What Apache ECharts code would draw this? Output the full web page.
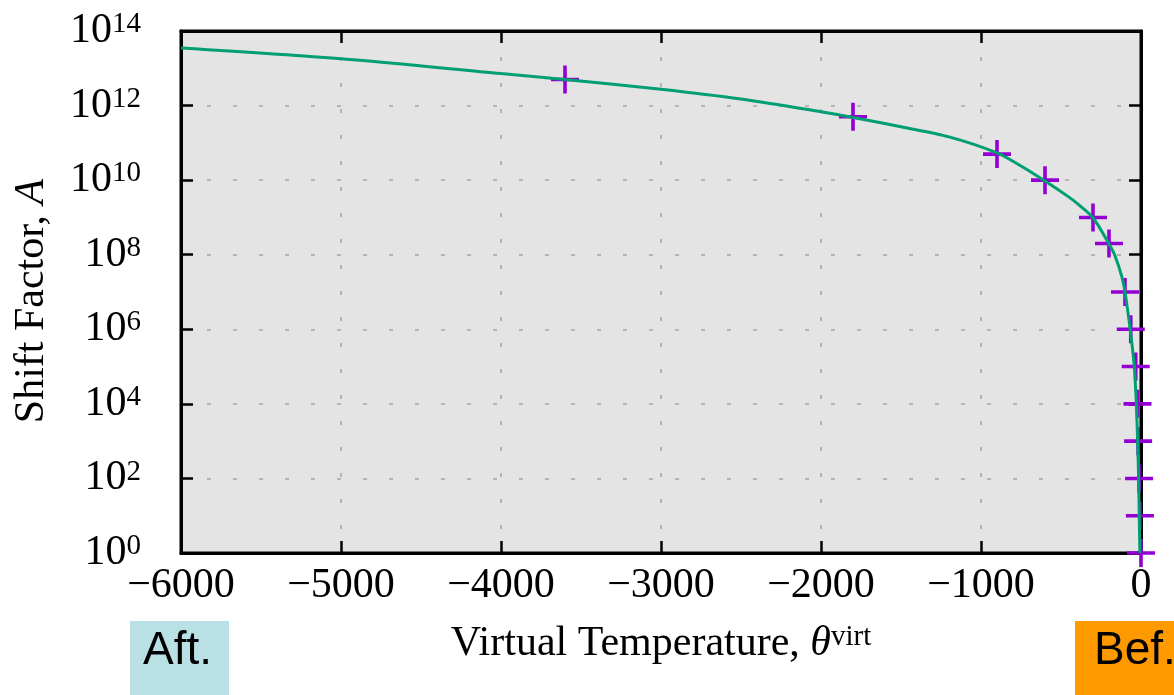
<!DOCTYPE html>
<html>
<head>
<meta charset="utf-8">
<script src="https://cdn.jsdelivr.net/npm/echarts@6/dist/echarts.min.js"></script>
<style>
html,body{margin:0;padding:0;background:#fff;}
#chart{width:1174px;height:695px;}
</style>
</head>
<body>
<div id="chart"></div>
<script>
// Fitted curve (virtual temperature, shift factor)
const curveTheta = [-6000, -5000, -4000, -3600, -3000, -2500, -2000, -1800, -1500, -1200, -900, -750, -600, -450, -390, -300, -200, -165, -120, -100, -67, -42, -29, -21, -15, -11, -7];
const curveA = [3.5e13, 1.8e13, 7.2e12, 5.0e12, 2.75e12, 1.5e12, 6.8e11, 4.8e11, 2.7e11, 1.45e11, 5.4e10, 2.4e10, 9.5e9, 3.5e9, 2.2e9, 9.8e8, 1.95e8, 1e8, 2.6e7, 1e7, 9.5e5, 1e5, 1e4, 1e3, 1e2, 1e1, 1];
// Measured points (plus markers)
const pointTheta = [-3600, -1800, -900, -600, -300, -200, -100, -64, -33, -22, -18, -12, -7, 0];
const pointA = [5e12, 5e11, 5e10, 1e10, 1e9, 2e8, 1e7, 1e6, 1e5, 1e4, 1e3, 1e2, 1e1, 1e0];
// Axes
const xTicks = [-6000, -5000, -4000, -3000, -2000, -1000, 0];
const yExponents = [0, 2, 4, 6, 8, 10, 12, 14];
const xName = 'Virtual Temperature, ';
const yName = 'Shift Factor, ';

const SERIF = 'Liberation Serif';
const chart = echarts.init(document.getElementById('chart'), null, {renderer: 'canvas'});

const curveData = curveTheta.map((t, i) => [t, curveA[i]]);
const pointData = pointTheta.map((t, i) => [t, pointA[i]]);

const plusPath = 'path://M12.2,0 H15.8 V12.2 H28 V15.8 H15.8 V28 H12.2 V15.8 H0 V12.2 H12.2 Z';

const gridLine = {show: true, lineStyle: {color: '#b4b4b4', width: 2, type: [4, 22]}};
const tickStyle = {show: true, inside: true, length: 12, lineStyle: {color: '#000', width: 2.5}};

const option = {
  animation: false,
  backgroundColor: '#fff',
  grid: {
    left: 181, right: 33, top: 31, bottom: 142,
    show: true, backgroundColor: '#e4e4e4', borderColor: '#000', borderWidth: 3
  },
  xAxis: [{
    type: 'value', min: xTicks[0], max: xTicks[xTicks.length - 1], interval: 1000,
    position: 'bottom',
    axisLine: {show: true, onZero: false, lineStyle: {color: '#000', width: 3}},
    axisTick: tickStyle,
    splitLine: gridLine,
    axisLabel: {
      margin: 12, color: '#000', fontFamily: SERIF, fontSize: 42,
      formatter: v => v < 0 ? '\u2212' + Math.abs(v) : String(v)
    },
    name: xName + '{i|\u03b8}{s|virt}',
    nameLocation: 'middle', nameGap: 70,
    nameTextStyle: {
      color: '#000', fontFamily: SERIF, fontSize: 42,
      rich: {
        i: {fontFamily: SERIF, fontSize: 42, fontStyle: 'italic', color: '#000'},
        s: {fontFamily: SERIF, fontSize: 29, color: '#000', verticalAlign: 'top'}
      }
    }
  }, {
    type: 'value', min: xTicks[0], max: xTicks[xTicks.length - 1], interval: 1000,
    position: 'top',
    axisLine: {show: true, onZero: false, lineStyle: {color: '#000', width: 3}},
    axisTick: tickStyle,
    splitLine: {show: false},
    axisLabel: {show: false}
  }],
  yAxis: [{
    type: 'log', logBase: 10, min: Math.pow(10, yExponents[0]), max: Math.pow(10, yExponents[yExponents.length - 1]),
    interval: 2,
    position: 'left',
    axisLine: {show: true, onZero: false, lineStyle: {color: '#000', width: 3}},
    axisTick: tickStyle,
    splitLine: gridLine,
    axisLabel: {
      margin: 40, color: '#000', fontFamily: SERIF, fontSize: 42,
      formatter: v => '{b|10}{s|' + Math.round(Math.log10(v)) + '}',
      rich: {
        b: {fontFamily: SERIF, fontSize: 42, color: '#000'},
        s: {fontFamily: SERIF, fontSize: 29, color: '#000', verticalAlign: 'top'}
      }
    },
    name: yName + '{i|A}',
    nameLocation: 'middle', nameGap: 128,
    nameTextStyle: {
      color: '#000', fontFamily: SERIF, fontSize: 42,
      padding: [0, 18, 0, 0],
      rich: {
        i: {fontFamily: SERIF, fontSize: 42, fontStyle: 'italic', color: '#000'}
      }
    }
  }, {
    type: 'log', logBase: 10, min: Math.pow(10, yExponents[0]), max: Math.pow(10, yExponents[yExponents.length - 1]),
    interval: 2,
    position: 'right',
    axisLine: {show: true, onZero: false, lineStyle: {color: '#000', width: 3}},
    axisTick: tickStyle,
    splitLine: {show: false},
    axisLabel: {show: false}
  }],
  series: [{
    type: 'scatter',
    data: pointData,
    symbol: plusPath,
    symbolSize: 28,
    itemStyle: {color: '#9400d3', opacity: 1},
    z: 2,
    clip: false
  }, {
    type: 'line',
    data: curveData,
    showSymbol: false,
    smooth: 0.3,
    lineStyle: {color: '#009e73', width: 3},
    z: 3
  }],
  graphic: [
    {type: 'rect', left: 130, top: 621, shape: {width: 99, height: 74}, style: {fill: '#b9e0e4'}},
    {type: 'text', left: 143, top: 628, style: {text: 'Aft.', font: '46px "Liberation Sans"', fill: '#000'}},
    {type: 'rect', left: 1075, top: 621, shape: {width: 99, height: 74}, style: {fill: '#ff9900'}},
    {type: 'text', left: 1094, top: 628, style: {text: 'Bef.', font: '46px "Liberation Sans"', fill: '#000'}}
  ]
};
chart.setOption(option);
</script>
</body>
</html>
